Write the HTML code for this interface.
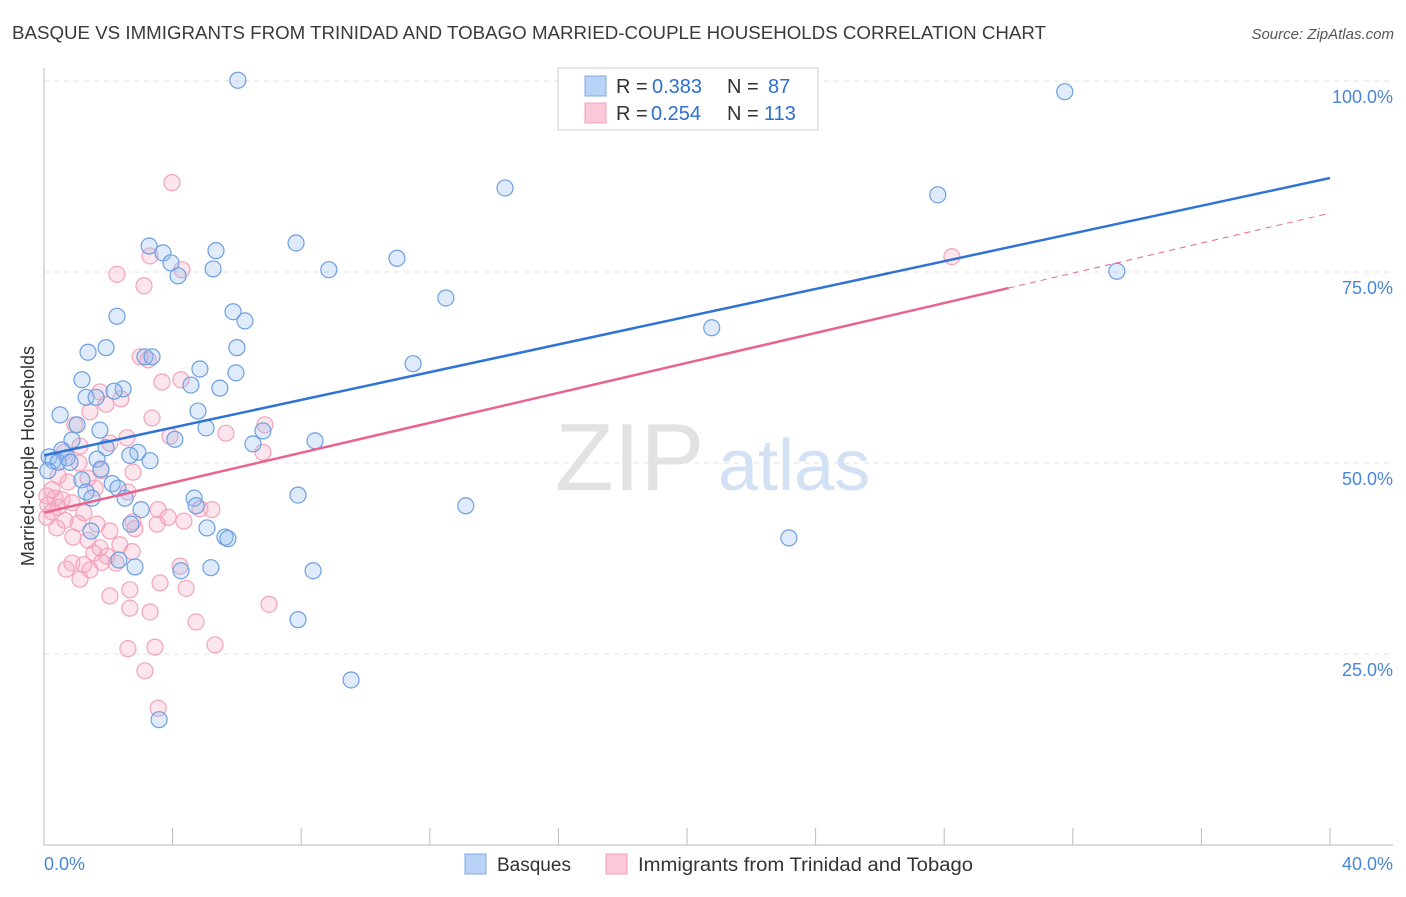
<!DOCTYPE html>
<html><head><meta charset="utf-8"><style>
body{margin:0;background:#fff;font-family:"Liberation Sans",sans-serif;}
svg text{font-family:"Liberation Sans",sans-serif;}
</style></head><body>
<svg id="chart" width="1406" height="892" xmlns="http://www.w3.org/2000/svg">
<text x="12" y="39" font-size="18" fill="#3a3a3a" textLength="1034" lengthAdjust="spacingAndGlyphs">BASQUE VS IMMIGRANTS FROM TRINIDAD AND TOBAGO MARRIED-COUPLE HOUSEHOLDS CORRELATION CHART</text>
<text x="1394" y="39" font-size="15" fill="#555" text-anchor="end" font-style="italic">Source: ZipAtlas.com</text>
<text transform="translate(34,456) rotate(-90)" font-size="18" fill="#333" text-anchor="middle">Married-couple Households</text>
<g id="grid"></g>
<g><text x="555" y="490" font-size="96" fill="#e2e2e2" font-family="Liberation Serif,serif">ZIP</text><text x="718" y="490" font-size="72" fill="#d2e1f3">atlas</text></g>
<g id="pts"></g>
<g id="lines"></g>
<g>
<rect x="558" y="68" width="260" height="62" fill="#fff" stroke="#ccc"/>
<rect x="585" y="76" width="21" height="20" fill="#b9d2f5" stroke="#7ea8e6"/>
<rect x="585" y="103" width="21" height="20" fill="#fcc9d8" stroke="#f0a0b8"/>
<text x="616" y="93" font-size="20" fill="#333">R =</text><text x="652" y="93" font-size="20" fill="#2c6fd1">0.383</text>
<text x="727" y="93" font-size="20" fill="#333">N =</text><text x="768" y="93" font-size="20" fill="#2c6fd1">87</text>
<text x="616" y="120" font-size="20" fill="#333">R =</text><text x="651" y="120" font-size="20" fill="#2c6fd1">0.254</text>
<text x="727" y="120" font-size="20" fill="#333">N =</text><text x="764" y="120" font-size="20" fill="#2c6fd1">113</text>
</g>
<g>
<rect x="465" y="854" width="21" height="20" fill="#b9d2f5" stroke="#7ea8e6"/>
<text x="497" y="871" font-size="19" fill="#333">Basques</text>
<rect x="606" y="854" width="21" height="20" fill="#fcc9d8" stroke="#f0a0b8"/>
<text x="638" y="871" font-size="19" fill="#333" textLength="335" lengthAdjust="spacingAndGlyphs">Immigrants from Trinidad and Tobago</text>
</g>
</svg>
<script>
const yTicks=[25,50,75,100];
const yTickLabels=["25.0%","50.0%","75.0%","100.0%"];
const xTicks=[0,4,8,12,16,20,24,28,32,36,40];
const blueX=[6.03,31.75,14.34,27.8,7.84,3.27,5.35,3.70,3.95,10.98,5.26,4.17,8.86,33.37,12.5,5.88,2.27,6.25,20.77,1.37,1.93,6.0,3.14,3.36,11.48,4.85,5.97,1.18,4.57,5.47,2.46,2.18,1.31,1.62,4.79,0.5,1.03,1.74,5.04,6.81,4.07,0.87,8.43,6.5,1.93,0.56,2.92,2.67,0.16,0.72,0.28,0.44,1.65,3.3,0.81,1.77,0.12,1.18,2.12,2.3,1.31,1.49,2.52,4.67,7.9,4.73,13.12,3.02,2.7,5.07,1.46,5.63,5.72,23.17,2.33,2.83,5.19,4.26,8.37,7.9,9.55,3.58];
const blueY=[100.1,98.6,86.0,85.1,78.8,78.4,77.8,77.5,76.2,76.8,75.4,74.5,75.3,75.1,71.6,69.8,69.2,68.6,67.7,64.5,65.1,65.1,63.9,63.9,63.0,62.3,61.8,60.9,60.2,59.8,59.7,59.4,58.6,58.6,56.8,56.3,55.0,54.3,54.6,54.2,53.1,53.0,52.9,52.5,52.0,51.7,51.4,51.0,50.8,50.7,50.3,50.1,50.5,50.3,50.1,49.2,49.0,47.8,47.3,46.7,46.2,45.4,45.4,45.4,45.8,44.4,44.4,43.9,42.0,41.5,41.1,40.3,40.1,40.2,37.3,36.4,36.3,35.9,35.9,29.5,21.6,16.4];
const pinkX=[3.98,28.24,3.3,4.29,2.27,3.11,2.99,3.24,3.67,4.26,1.74,2.39,1.93,1.43,3.36,6.87,0.96,5.66,3.92,2.58,2.05,1.12,6.81,0.62,1.09,1.77,2.77,1.37,0.44,0.75,1.59,0.25,2.61,0.09,0.34,0.56,0.87,0.12,0.44,0.25,3.55,4.85,5.22,1.24,0.09,0.65,3.86,1.06,1.65,2.77,4.35,3.52,0.4,2.05,2.83,0.9,1.37,2.36,1.74,1.55,2.74,1.96,0.87,1.24,1.8,2.24,4.23,0.69,1.43,1.12,3.61,4.42,2.67,2.05,2.67,3.3,7.0,4.73,5.32,3.45,2.61,3.14,3.55];
const pinkY=[86.7,77.0,77.1,75.3,74.7,73.2,63.9,63.5,60.6,60.9,59.3,58.4,57.7,56.7,55.9,55.0,55.0,53.9,53.5,53.3,52.6,52.2,51.4,51.4,50.0,49.0,48.8,48.0,48.3,47.5,46.7,46.5,46.2,45.7,45.4,45.2,44.8,44.5,44.2,43.6,43.9,44.0,43.9,43.5,42.9,42.5,42.9,42.1,42.0,42.3,42.4,42.0,41.5,41.1,41.4,40.3,39.9,39.3,38.9,38.2,38.4,37.8,36.9,36.7,37.0,36.9,36.5,36.1,36.0,34.8,34.3,33.6,33.4,32.6,31.0,30.5,31.5,29.2,26.2,25.9,25.7,22.8,17.9];
const blueTrend=[51.0,87.3];
const pinkTrend=[43.5,82.7];
const pinkSolidEnd=30;
const X=v=>44+v/40*1286, Y=v=>845-v/100*764;
const NS="http://www.w3.org/2000/svg";
function mk(tag,attrs,parent){const e=document.createElementNS(NS,tag);for(const k in attrs)e.setAttribute(k,attrs[k]);parent.appendChild(e);return e;}
const grid=document.getElementById('grid');
yTicks.forEach((t,i)=>{
 const l=mk('line',{x1:44,x2:1393,y1:Y(t),y2:Y(t),stroke:'#e0e0e0','stroke-dasharray':'5,5'},grid);
 
 
 const tx=mk('text',{x:1393,y:Y(t)+22,'font-size':18,fill:'#4a86d8','text-anchor':'end'},grid);tx.textContent=yTickLabels[i];
 
 
});
const ax=mk('line',{x1:44,x2:44,y1:68,y2:845,stroke:'#bbb'},grid);


const bx=mk('line',{x1:44,x2:1393,y1:845,y2:845,stroke:'#bbb'},grid);


xTicks.forEach(t=>{const l=mk('line',{x1:X(t),x2:X(t),y1:828,y2:845,stroke:'#bbb'},grid);
 
 });
const x0=mk('text',{x:44,y:870,'font-size':18,fill:'#4a86d8'},grid);x0.textContent='0.0%';


const x1=mk('text',{x:1393,y:870,'font-size':18,fill:'#4a86d8','text-anchor':'end'},grid);x1.textContent='40.0%';


const pts=document.getElementById('pts');
pinkX.forEach((v,i)=>{const c=mk('circle',{cx:X(v),cy:Y(pinkY[i]),r:8,fill:'rgba(248,170,195,0.3)',stroke:'#f2a3bb','stroke-width':1.2},pts);
 
 });
blueX.forEach((v,i)=>{const c=mk('circle',{cx:X(v),cy:Y(blueY[i]),r:8,fill:'rgba(150,188,240,0.3)',stroke:'#6c9fe2','stroke-width':1.2},pts);
 
 });
const lines=document.getElementById('lines');
const bl=mk('line',{x1:X(0),y1:Y(blueTrend[0]),x2:X(40),y2:Y(blueTrend[1]),stroke:'#2f74d4','stroke-width':2.5},lines);


const pm=pinkTrend[0]+(pinkTrend[1]-pinkTrend[0])*pinkSolidEnd/40;
const pl=mk('line',{x1:X(0),y1:Y(pinkTrend[0]),x2:X(pinkSolidEnd),y2:Y(pm),stroke:'#e8648e','stroke-width':2.5},lines);


const pd=mk('line',{x1:X(pinkSolidEnd),y1:Y(pm),x2:X(40),y2:Y(pinkTrend[1]),stroke:'#e8648e','stroke-width':1,'stroke-dasharray':'6,5'},lines);


</script>
</body></html>
